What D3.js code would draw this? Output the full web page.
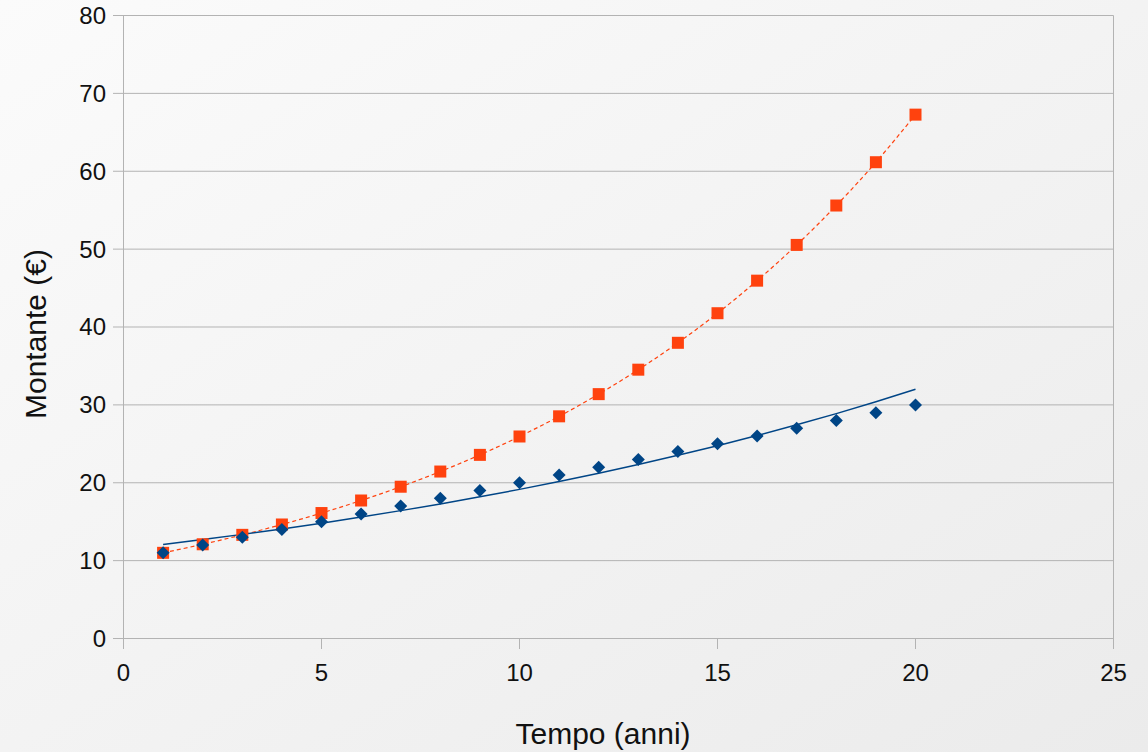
<!DOCTYPE html>
<html><head><meta charset="utf-8">
<script src="https://cdn.jsdelivr.net/npm/d3@7"></script>
<style>html,body{margin:0;padding:0;}svg{display:block;}</style>
</head><body>
<script>
const years = [1,2,3,4,5,6,7,8,9,10,11,12,13,14,15,16,17,18,19,20];
const simple = [11,12,13,14,15,16,17,18,19,20,21,22,23,24,25,26,27,28,29,30];
const compound = [11,12.1,13.31,14.64,16.11,17.72,19.49,21.44,23.58,25.94,28.53,31.38,34.52,37.97,41.77,45.95,50.54,55.6,61.16,67.27];
const simpleTrend = [12.06,12.7,13.37,14.07,14.81,15.59,16.42,17.28,18.19,19.15,20.16,21.22,22.34,23.52,24.76,26.06,27.44,28.88,30.41,32.01];
const xTicks = [0,5,10,15,20,25];
const yTicks = [0,10,20,30,40,50,60,70,80];

const W=1148,H=752;
const FONT="Liberation Sans, Arial, sans-serif";
const svg=d3.select("body").append("svg").attr("width",W).attr("height",H);
const defs=svg.append("defs");
const g=defs.append("linearGradient").attr("id","bg").attr("x1","0").attr("y1","0").attr("x2","1").attr("y2","1");
g.append("stop").attr("offset","0").attr("stop-color","#fbfbfb");
g.append("stop").attr("offset","1").attr("stop-color","#ebebeb");
svg.append("rect").attr("width",W).attr("height",H).attr("fill","url(#bg)");

const x=d3.scaleLinear().domain([0,25]).range([123.5,1113.5]);
const y=d3.scaleLinear().domain([0,80]).range([638.5,15.5]);

// gridlines
svg.append("g").selectAll("line").data(yTicks).join("line")
  .attr("x1",113).attr("x2",x(25)).attr("y1",d=>y(d)).attr("y2",d=>y(d))
  .attr("stroke","#b3b3b3").attr("stroke-width",1);
// left axis & right border
[0,25].forEach(v=>{
  svg.append("line").attr("x1",x(v)).attr("x2",x(v)).attr("y1",y(80)).attr("y2",649)
    .attr("stroke","#b3b3b3").attr("stroke-width",1);
});
// x ticks
svg.append("g").selectAll("line").data(xTicks).join("line")
  .attr("x1",d=>x(d)).attr("x2",d=>x(d)).attr("y1",y(0)).attr("y2",649)
  .attr("stroke","#b3b3b3").attr("stroke-width",1);

// tick labels
svg.append("g").selectAll("text").data(yTicks).join("text")
  .attr("x",106).attr("y",d=>y(d)).attr("dy","0.35em").attr("text-anchor","end")
  .attr("font-family",FONT).attr("font-size",24).attr("fill","#111")
  .text(d=>d);
svg.append("g").selectAll("text").data(xTicks).join("text")
  .attr("x",d=>x(d)).attr("y",681).attr("text-anchor","middle")
  .attr("font-family",FONT).attr("font-size",24).attr("fill","#111")
  .text(d=>d);

// axis titles
svg.append("text").attr("x",603).attr("y",744).attr("text-anchor","middle")
  .attr("font-family",FONT).attr("font-size",30).attr("fill","#111")
  .text("Tempo (anni)");
svg.append("text").attr("transform","translate(46,334) rotate(-90)").attr("text-anchor","middle")
  .attr("font-family",FONT).attr("font-size",30).attr("fill","#111")
  .text("Montante (€)");

// trend lines
const line=d3.line().x(d=>x(d[0])).y(d=>y(d[1])).curve(d3.curveMonotoneX);
svg.append("path").attr("d",line(years.map((t,i)=>[t,compound[i]])))
  .attr("fill","none").attr("stroke","#ff420e").attr("stroke-width",1.2).attr("stroke-dasharray","4,3");
svg.append("path").attr("d",line(years.map((t,i)=>[t,simpleTrend[i]])))
  .attr("fill","none").attr("stroke","#004586").attr("stroke-width",1.5);

// markers
const s=12;
svg.append("g").selectAll("rect").data(years.map((t,i)=>[t,compound[i]])).join("rect")
  .attr("x",d=>x(d[0])-s/2).attr("y",d=>y(d[1])-s/2).attr("width",s).attr("height",s)
  .attr("fill","#ff420e");
const dsz=6.5;
svg.append("g").selectAll("path").data(years.map((t,i)=>[t,simple[i]])).join("path")
  .attr("d",d=>{const cx=x(d[0]),cy=y(d[1]);return `M${cx},${cy-dsz}L${cx+dsz},${cy}L${cx},${cy+dsz}L${cx-dsz},${cy}Z`;})
  .attr("fill","#004586");
</script>
</body></html>
